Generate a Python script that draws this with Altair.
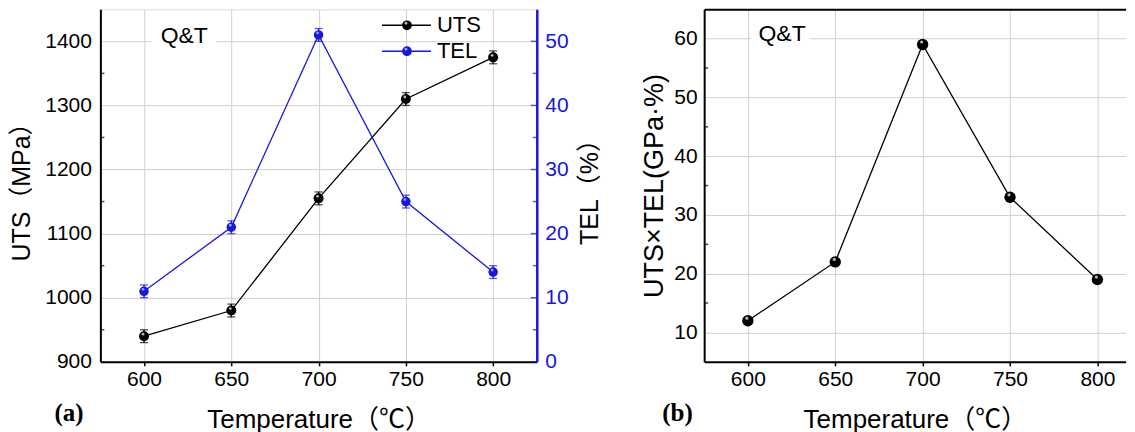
import altair as alt
import pandas as pd

# ---------------- data ----------------
temps = [600, 650, 700, 750, 800]
uts = [940, 980, 1155, 1310, 1375]
uts_err = [10, 10, 10, 10, 10]
tel = [11, 21, 51, 25, 14]
tel_err = [1, 1, 1, 1, 1]
product = [12, 22, 59, 33, 19]

x_major = [600, 650, 700, 750, 800]
x_minor = [625, 675, 725, 775]
uts_major = [900, 1000, 1100, 1200, 1300, 1400]
uts_minor = [950, 1050, 1150, 1250, 1350]
tel_major = [0, 10, 20, 30, 40, 50]
tel_minor = [5, 15, 25, 35, 45]
prod_major = [10, 20, 30, 40, 50, 60]
prod_minor = [15, 25, 35, 45, 55]
legend_names = ["UTS", "TEL"]

# ---------------- style ----------------
BLUE = "#1717dd"
GRID = "#d0d0d0"
FONT = "Liberation Sans"
TFONT = "Liberation Sans, Noto Sans CJK SC"
W1, W2, H = 437, 422, 353
LFS = 21

df = pd.DataFrame({"T": temps, "UTS": uts, "UTS_err": uts_err,
                   "TEL": tel, "TEL_err": tel_err, "P": product})
one = pd.DataFrame({"k": [0]})

x1_scale = alt.Scale(domain=[575, 825], nice=False, zero=False)
x2_scale = alt.Scale(domain=[575, 575 + W2 / 1.75], nice=False, zero=False)


def x_axis():
    return alt.Axis(values=x_major, title="Temperature（℃）", grid=True, gridColor=GRID,
                    ticks=True, tickSize=4, tickWidth=1.5, tickColor="black",
                    domainColor="black", domainWidth=2, labelFontSize=LFS,
                    labelPadding=3, titleFontSize=26, titlePadding=17, format="d",
                    titleFontWeight="normal", titleFont=TFONT, labelFont=FONT)


uts_axis = alt.Axis(values=uts_major, title="UTS（MPa）", grid=True, gridColor=GRID,
                    ticks=False, domainColor="black", domainWidth=2, labelFontSize=LFS,
                    labelPadding=9, titleFontSize=25, titlePadding=10, format="d",
                    titleFontWeight="normal", titleFont=TFONT, labelFont=FONT)
tel_axis = alt.Axis(values=tel_major, title="TEL（%）", orient="right", grid=False,
                    ticks=False, domainColor=BLUE, domainWidth=2.5, labelColor=BLUE,
                    labelFontSize=LFS, labelPadding=8, titleFontSize=25, titlePadding=9,
                    titleAngle=270, titleBaseline="top", format="d",
                    titleFontWeight="normal", titleFont=TFONT, labelFont=FONT)
prod_axis = alt.Axis(values=prod_major, title="UTS×TEL(GPa·%)", grid=True, gridColor=GRID,
                     ticks=False, domainColor="black", domainWidth=2, labelFontSize=LFS,
                     labelPadding=7, titleFontSize=27, titlePadding=5, format="d",
                     titleFontWeight="normal", titleFont=TFONT, labelFont=FONT)

uts_scale = alt.Scale(domain=[900, 1450], nice=False, zero=False)
tel_scale = alt.Scale(domain=[0, 55], nice=False, zero=False)
prod_scale = alt.Scale(domain=[5, 65], nice=False, zero=False)


def xe1():
    return alt.X("T:Q", scale=x1_scale, axis=x_axis())


def xe2():
    return alt.X("T:Q", scale=x2_scale, axis=x_axis())


# ---------------- left panel: UTS group ----------------
base = alt.Chart(df)
uy = lambda f: alt.Y(f, scale=uts_scale, axis=uts_axis)
ty = lambda f: alt.Y(f, scale=tel_scale, axis=tel_axis)

uts_line = base.mark_line(color="black", strokeWidth=1.3).encode(x=xe1(), y=uy("UTS:Q"))
uts_calc = base.transform_calculate(lo="datum.UTS - datum.UTS_err", hi="datum.UTS + datum.UTS_err")
uts_bar = uts_calc.mark_rule(color="black", strokeWidth=1.3).encode(x=xe1(), y=uy("lo:Q"), y2="hi:Q")
uts_cap_lo = uts_calc.mark_tick(orient="horizontal", size=8, thickness=1.3, color="black").encode(x=xe1(), y=uy("lo:Q"))
uts_cap_hi = uts_calc.mark_tick(orient="horizontal", size=8, thickness=1.3, color="black").encode(x=xe1(), y=uy("hi:Q"))
uts_pts = base.mark_point(filled=True, size=100, color="black", opacity=1).encode(x=xe1(), y=uy("UTS:Q"))
uts_hl = base.mark_point(filled=True, size=8, color="#b5b5b5", opacity=1).encode(
    x=xe1(), y=uy("UTS:Q"), xOffset=alt.value(-1), yOffset=alt.value(-2))
uts_minor_ticks = alt.Chart(pd.DataFrame({"v": uts_minor})).mark_tick(
    orient="horizontal", size=4, thickness=1.5, color="black").encode(y=uy("v:Q"), x=alt.value(2))
x_minor_ticks1 = alt.Chart(pd.DataFrame({"v": x_minor})).mark_tick(
    orient="vertical", size=4, thickness=1.5, color="black").encode(x=xe1(), y=alt.value(H - 2))

uts_group = alt.layer(uts_line, uts_bar, uts_cap_lo, uts_cap_hi, uts_pts, uts_hl,
                      uts_minor_ticks, x_minor_ticks1)

# ---------------- left panel: TEL group ----------------
tel_line = base.mark_line(color=BLUE, strokeWidth=1.3).encode(x=xe1(), y=ty("TEL:Q"))
tel_calc = base.transform_calculate(lo="datum.TEL - datum.TEL_err", hi="datum.TEL + datum.TEL_err")
tel_bar = tel_calc.mark_rule(color=BLUE, strokeWidth=1.3).encode(x=xe1(), y=ty("lo:Q"), y2="hi:Q")
tel_cap_lo = tel_calc.mark_tick(orient="horizontal", size=8, thickness=1.3, color=BLUE).encode(x=xe1(), y=ty("lo:Q"))
tel_cap_hi = tel_calc.mark_tick(orient="horizontal", size=8, thickness=1.3, color=BLUE).encode(x=xe1(), y=ty("hi:Q"))
tel_pts = base.mark_point(filled=True, size=90, color=BLUE, opacity=1).encode(x=xe1(), y=ty("TEL:Q"))
tel_hl = base.mark_point(filled=True, size=8, color="#9a9aff", opacity=1).encode(
    x=xe1(), y=ty("TEL:Q"), xOffset=alt.value(-1), yOffset=alt.value(-2))
tel_minor_ticks = alt.Chart(pd.DataFrame({"v": tel_minor})).mark_tick(
    orient="horizontal", size=4, thickness=1.5, color=BLUE).encode(y=ty("v:Q"), x=alt.value(W1 - 2))
tel_major_ticks = alt.Chart(pd.DataFrame({"v": tel_major})).mark_tick(
    orient="horizontal", size=6, thickness=1.5, color=BLUE).encode(y=ty("v:Q"), x=alt.value(W1 - 3))

tel_group = alt.layer(tel_line, tel_bar, tel_cap_lo, tel_cap_hi, tel_pts, tel_hl,
                      tel_minor_ticks, tel_major_ticks)

# ---------------- left panel: annotations ----------------
ann = alt.Chart(one)
qt_box1 = ann.mark_rect(color="white").encode(x=alt.value(51), x2=alt.value(116), y=alt.value(15), y2=alt.value(42))
qt_text1 = ann.mark_text(text="Q&T", font=FONT, fontSize=23, align="center", baseline="middle",
                         color="black").encode(x=alt.value(84), y=alt.value(27))
label_a = ann.mark_text(text="(a)", font="Liberation Serif", fontSize=25, fontWeight="bold",
                        align="left", baseline="alphabetic", color="black").encode(
    x=alt.value(-46), y=alt.value(412))

leg_df = pd.DataFrame({"name": legend_names, "color": ["black", BLUE]})
leg_layers = []
for i, (nm, col, hl) in enumerate(zip(legend_names, ["black", BLUE], ["#b5b5b5", "#9a9aff"])):
    yy = 16 + 26 * i
    lb = alt.Chart(leg_df).transform_filter(alt.datum.name == nm)
    leg_layers.append(lb.mark_rule(color=col, strokeWidth=1.5).encode(
        x=alt.value(282), x2=alt.value(331), y=alt.value(yy)))
    leg_layers.append(lb.mark_point(filled=True, size=95, color=col, opacity=1).encode(
        x=alt.value(307), y=alt.value(yy)))
    leg_layers.append(lb.mark_point(filled=True, size=8, color=hl, opacity=1).encode(
        x=alt.value(306), y=alt.value(yy - 2)))
    leg_layers.append(lb.mark_text(font=FONT, fontSize=22, align="left", baseline="middle",
                                   color="black").encode(text="name:N", x=alt.value(337), y=alt.value(yy)))

ann_group = alt.layer(qt_box1, qt_text1, label_a, *leg_layers)

left = alt.layer(uts_group, tel_group, ann_group).resolve_scale(y="independent").properties(
    width=W1, height=H)

# ---------------- right panel ----------------
py = lambda f: alt.Y(f, scale=prod_scale, axis=prod_axis)
p_line = base.mark_line(color="black", strokeWidth=1.3).encode(x=xe2(), y=py("P:Q"))
p_pts = base.mark_point(filled=True, size=130, color="black", opacity=1).encode(x=xe2(), y=py("P:Q"))
p_hl = base.mark_point(filled=True, size=10, color="#b5b5b5", opacity=1).encode(
    x=xe2(), y=py("P:Q"), xOffset=alt.value(-1), yOffset=alt.value(-2.5))
p_minor_ticks = alt.Chart(pd.DataFrame({"v": prod_minor})).mark_tick(
    orient="horizontal", size=4, thickness=1.5, color="black").encode(y=py("v:Q"), x=alt.value(2))
x_minor_ticks2 = alt.Chart(pd.DataFrame({"v": x_minor})).mark_tick(
    orient="vertical", size=4, thickness=1.5, color="black").encode(x=xe2(), y=alt.value(H - 2))
qt_box2 = ann.mark_rect(color="white").encode(x=alt.value(47), x2=alt.value(106), y=alt.value(14), y2=alt.value(40))
qt_text2 = ann.mark_text(text="Q&T", font=FONT, fontSize=23, align="center", baseline="middle",
                         color="black").encode(x=alt.value(78), y=alt.value(25))
label_b = ann.mark_text(text="(b)", font="Liberation Serif", fontSize=25, fontWeight="bold",
                        align="left", baseline="alphabetic", color="black").encode(
    x=alt.value(-42), y=alt.value(412))

p_inner = alt.layer(p_line, p_pts, p_hl, p_minor_ticks, x_minor_ticks2, qt_box2, qt_text2, label_b)
top_line = base.mark_point(opacity=0).encode(
    x=alt.X("T:Q", scale=x2_scale,
            axis=alt.Axis(orient="top", labels=False, ticks=False, grid=False, title="",
                          domainColor="black", domainWidth=2)))

right = alt.layer(p_inner, top_line).resolve_axis(x="independent").properties(
    width=W2, height=H, view=alt.ViewBackground(stroke="transparent"))

chart = alt.hconcat(left, right, spacing=167.6, bounds="flush").properties(
    padding={"left": 0.5, "top": 0, "right": 0, "bottom": 0}
).configure_view(stroke="black", strokeWidth=2).configure_axis(
    labelFont=FONT, titleFont=TFONT, titleFontWeight="normal", labelColor="black",
    titleColor="black", gridWidth=1
).configure(background="white")

chart.save("out.html", embed_options={"renderer": "svg", "actions": False})
